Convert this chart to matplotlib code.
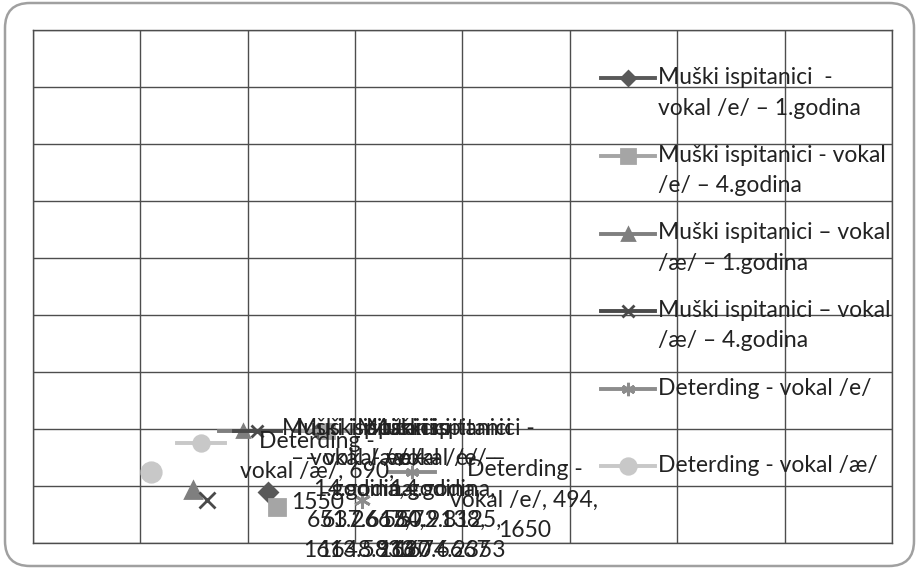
import numpy as np
import matplotlib
matplotlib.use("Agg")
import matplotlib.pyplot as plt
from matplotlib.lines import Line2D
from matplotlib.legend_handler import HandlerLine2D
from matplotlib.offsetbox import AnnotationBbox, DrawingArea, HPacker, TextArea
from matplotlib.patches import FancyBboxPatch

# F1 on x, F2 on y (both axes reversed, as in a vowel chart)
series_names = [
    "Muški ispitanici  -\nvokal /e/ – 1.godina",
    "Muški ispitanici - vokal\n/e/ – 4.godina",
    "Muški ispitanici – vokal\n/æ/ – 1.godina",
    "Muški ispitanici – vokal\n/æ/ – 4.godina",
    "Deterding - vokal /e/\n ",
    "Deterding - vokal /æ/\n ",
]
f1_values = [580.9138, 572.8125, 651.2667, 637.6154, 494, 690]
f2_values = [1620.6667, 1674.2353, 1613.5833, 1648.9167, 1650, 1550]
label_templates = [
    "Muški ispitanici\n- vokal /e/ –\n1.godina,\n{x},\n{y}",
    "Muški ispitanici -\nvokal /e/ –\n4.godina,\n{x},\n{y}",
    "Muški ispitanici\n– vokal /æ/ –\n1.godina,\n{x},\n{y}",
    "Muški ispitanici\n– vokal /æ/ –\n4.godina,\n{x},\n{y}",
    "Deterding -\nvokal /e/, {x},\n{y}",
    "Deterding -\nvokal /æ/, {x},\n{y}",
]
markers = ["D", "s", "^", "x", (6, 2, 0), "o"]
marker_sizes = [9, 12, 11, 11, 12, 14]
colors = ["#595959", "#a5a5a5", "#7f7f7f", "#4a4a4a", "#8c8c8c", "#c8c8c8"]

plt.rcParams["font.family"] = ["Lato", "DejaVu Sans"]
fs = 16.5
LS = 1.56
LABEL_FLOOR = 8  # px from the figure bottom; labels are kept above it


def fmt(v):
    return ("%.4f" % v).rstrip("0").rstrip(".")


def key_box(color, marker, ms):
    w, h = 34, fs * 1.1
    da = DrawingArea(w, h, 0, 0)
    da.add_artist(Line2D([0, w], [h / 2, h / 2], color=color, lw=2.8))
    da.add_artist(Line2D([w / 2], [h / 2], color=color, marker=marker,
                         ms=ms * 0.8, mew=2, lw=0))
    return da


class FirstLineHandler(HandlerLine2D):
    def create_artists(self, legend, orig_handle, xdescent, ydescent,
                       width, height, fontsize, trans):
        arts = super().create_artists(legend, orig_handle, xdescent, ydescent,
                                      width, height, fontsize, trans)
        for a in arts:
            a.set_ydata(np.asarray(a.get_ydata()) + 10.8)
        return arts


fig = plt.figure(figsize=(9.19, 5.69), dpi=100)
fig.patches.append(FancyBboxPatch((0.05, 0.03), 9.09, 5.63,
                                  boxstyle="round,pad=0,rounding_size=0.25",
                                  transform=fig.dpi_scale_trans, fc="white",
                                  ec="#a0a0a0", lw=1.8, zorder=-1))
ax = fig.add_axes([0.0359, 0.0457, 0.9347, 0.9016])
ax.set_facecolor("none")
ax.set_xlim(800, 0)
ax.set_ylim(1800, 0)
ax.set_xticks(np.arange(0, 801, 100))
ax.set_yticks(np.arange(0, 1801, 200))
ax.tick_params(length=0, labelbottom=False, labelleft=False)
ax.grid(True, color="#4d4d4d", lw=1.0)
for s in ax.spines.values():
    s.set_color("#4d4d4d")
    s.set_linewidth(1.0)

renderer = fig.canvas.get_renderer()
px_to_pt = 72 / fig.dpi

handles = []
for i in range(len(series_names)):
    ax.plot([f1_values[i]], [f2_values[i]], linestyle="none",
            marker=markers[i], ms=marker_sizes[i], color=colors[i],
            mew=2, zorder=3)
    handles.append(Line2D([], [], color=colors[i], lw=2.8, marker=markers[i],
                          ms=marker_sizes[i] * 0.8, mew=2))

    txt = label_templates[i].format(x=fmt(f1_values[i]), y=fmt(f2_values[i]))
    ta = TextArea(txt, textprops=dict(fontsize=fs, color="#222222",
                                      multialignment="center", linespacing=LS))
    box = HPacker(children=[key_box(colors[i], markers[i], marker_sizes[i]), ta],
                  align="top", pad=0, sep=11)
    ab = AnnotationBbox(box, (f1_values[i], f2_values[i]), xybox=(19, 0),
                        xycoords="data", boxcoords="offset points",
                        box_alignment=(0, 0), frameon=False, pad=0, zorder=4)
    ax.add_artist(ab)
    # centre the label on the point, but keep it inside the chart area
    h = box.get_bbox(renderer).height
    py = ax.transData.transform((f1_values[i], f2_values[i]))[1]
    bottom = max(py - h / 2, LABEL_FLOOR)
    ab.xybox = (19, (bottom - py) * px_to_pt)

leg = fig.legend(handles, series_names, loc="upper left",
                 bbox_to_anchor=(601 / 919, 1 - 67 / 569), frameon=False,
                 fontsize=fs, handlelength=2.37, handletextpad=0.12,
                 borderpad=0, borderaxespad=0, labelspacing=1.14,
                 handler_map={Line2D: FirstLineHandler()})
for t in leg.get_texts():
    t.set_linespacing(LS)
    t.set_color("#222222")

fig.savefig("out.png", dpi=100)
